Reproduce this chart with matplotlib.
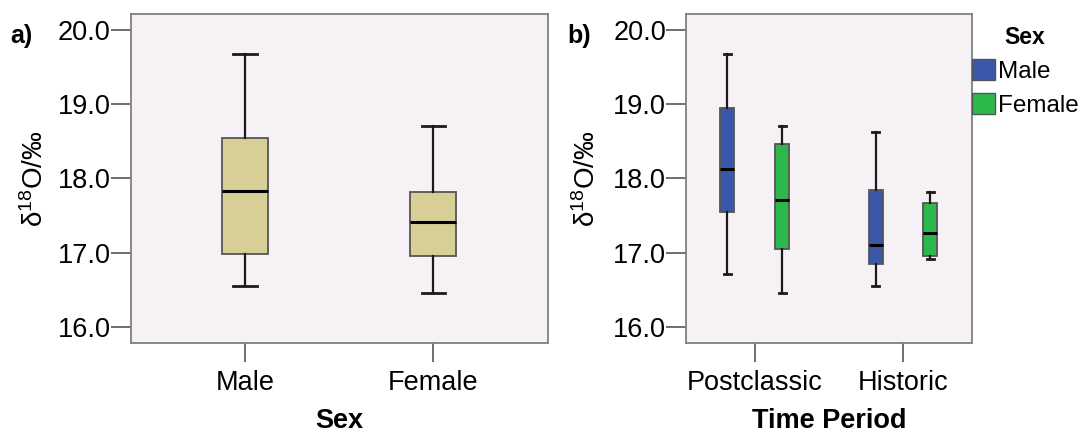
import matplotlib
matplotlib.use("Agg")
import matplotlib.pyplot as plt
from matplotlib.patches import Patch
from matplotlib.ticker import FormatStrFormatter

plt.rcParams['font.family'] = ['Liberation Sans', 'DejaVu Sans']
plt.rcParams['mathtext.default'] = 'regular'

# box stats: whisker low, Q1, median, Q3, whisker high
sex_labels = ['Male', 'Female']
sex_whislo = [16.55, 16.46]
sex_q1 = [16.98, 16.96]
sex_med = [17.83, 17.42]
sex_q3 = [18.55, 17.82]
sex_whishi = [19.67, 18.71]

period_labels = ['Postclassic', 'Historic']
male_whislo = [16.72, 16.55]
male_q1 = [17.55, 16.85]
male_med = [18.13, 17.11]
male_q3 = [18.95, 17.84]
male_whishi = [19.67, 18.62]

female_whislo = [16.46, 16.91]
female_q1 = [17.05, 16.96]
female_med = [17.71, 17.27]
female_q3 = [18.46, 17.67]
female_whishi = [18.71, 17.82]

tan = '#d8cf97'
blue = '#3b57a9'
green = '#2db84b'
bg = '#f6f1f5'
ylab = 'δ$^{18}$O/‰'
fs = 19.5


def stats(lo, q1, med, q3, hi):
    return [dict(whislo=a, q1=b, med=c, q3=d, whishi=e, fliers=[])
            for a, b, c, d, e in zip(lo, q1, med, q3, hi)]


def draw(ax, st, pos, width, color):
    ax.bxp(st, positions=pos, widths=width, capwidths=width / 2,
           patch_artist=True, showfliers=False, manage_ticks=False,
           boxprops=dict(facecolor=color, edgecolor='#555555', linewidth=1.3),
           medianprops=dict(color='black', linewidth=2.2),
           whiskerprops=dict(color='#1a1a1a', linewidth=1.6),
           capprops=dict(color='#1a1a1a', linewidth=2))


def style(ax):
    ax.set_facecolor(bg)
    for s in ax.spines.values():
        s.set_color('#808080')
        s.set_linewidth(1.3)
    ax.set_ylim(15.785, 20.215)
    ax.set_yticks([16, 17, 18, 19, 20])
    ax.yaxis.set_major_formatter(FormatStrFormatter('%.1f'))
    ax.tick_params(axis='y', length=14.5, width=1.2, color='#555555', pad=0, labelsize=fs)
    ax.tick_params(axis='x', length=13.5, width=1.2, color='#555555', pad=6, labelsize=fs)


fig = plt.figure(figsize=(10.86, 4.33), dpi=100)

ax1 = fig.add_axes([0.1202, 0.2079, 0.3841, 0.7598])
style(ax1)
draw(ax1, stats(sex_whislo, sex_q1, sex_med, sex_q3, sex_whishi), [1, 2], 0.247, tan)
ax1.set_xlim(0.392, 2.608)
ax1.set_xticks([1, 2])
ax1.set_xticklabels(sex_labels)
ax1.set_xlabel('Sex', fontsize=fs, fontweight='bold', va='center')
ax1.xaxis.set_label_coords(0.5, -0.236)
ax1.set_ylabel(ylab, fontsize=20, va='center')
ax1.yaxis.set_label_coords(-0.229, 0.5)

ax2 = fig.add_axes([0.6317, 0.2079, 0.2631, 0.7598])
style(ax2)
off = 0.185
draw(ax2, stats(male_whislo, male_q1, male_med, male_q3, male_whishi),
     [1 - off, 2 - off], 0.094, blue)
draw(ax2, stats(female_whislo, female_q1, female_med, female_q3, female_whishi),
     [1 + off, 2 + off], 0.094, green)
ax2.set_xlim(0.536, 2.464)
ax2.set_xticks([1, 2])
ax2.set_xticklabels(period_labels)
ax2.set_xlabel('Time Period', fontsize=fs, fontweight='bold', va='center')
ax2.xaxis.set_label_coords(0.5, -0.236)
ax2.set_ylabel(ylab, fontsize=20, va='center')
ax2.yaxis.set_label_coords(-0.347, 0.5)

fig.text(0.009, 1 - 36 / 433, 'a)', fontsize=18, fontweight='bold', va='center')
fig.text(0.522, 1 - 36 / 433, 'b)', fontsize=18, fontweight='bold', va='center')

handles = [Patch(facecolor=blue, edgecolor='#555555', label='Male'),
           Patch(facecolor=green, edgecolor='#555555', label='Female')]
fig.legend(handles=handles, loc='upper left', bbox_to_anchor=(972 / 1086, 1 - 26 / 433),
           frameon=False, fontsize=17.5, title='Sex',
           title_fontproperties={'weight': 'bold', 'size': 16.5},
           handlelength=0.95, handleheight=1.0, handletextpad=0.1,
           labelspacing=0.4, borderpad=0, borderaxespad=0)

fig.savefig('out.png', dpi=100)
